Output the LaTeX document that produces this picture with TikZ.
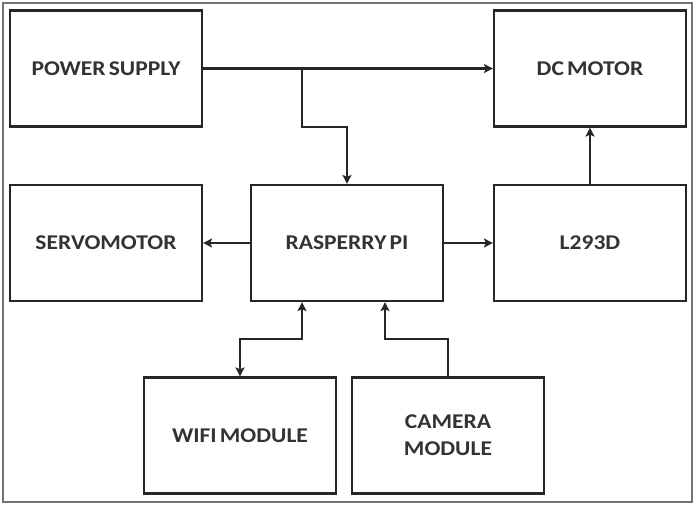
\documentclass[tikz,border=0pt]{standalone}
\usepackage{fontspec}
\setmainfont{Carlito}
\newfontfamily\blkfont[FakeStretch=1.12,WordSpace=0.6]{Carlito}
\usetikzlibrary{arrows.meta}
\begin{document}
\begin{tikzpicture}[x=1pt,y=-1pt,
  blk/.style={draw=black!85,line width=2.2pt,minimum width=192pt,minimum height=116pt,
    inner sep=0pt,align=center,font=\blkfont\bfseries\fontsize{21}{27}\selectfont,text=black!80},
  conn/.style={draw=black!85,line width=2.2pt,-{Stealth[length=9pt,width=9pt,inset=2pt]}},
  dconn/.style={draw=black!85,line width=2.2pt,{Stealth[length=9pt,width=9pt,inset=2pt]}-{Stealth[length=9pt,width=9pt,inset=2pt]}}]
\useasboundingbox (0,0) rectangle (696,506);
\draw[black!55,line width=2pt] (3,3) rectangle (692,502);
\node[blk] (ps) at (106,68.5) {POWER SUPPLY};
\node[blk] (dc) at (590,68.5) {DC MOTOR};
\node[blk] (servo) at (106,243) {SERVOMOTOR};
\node[blk] (rpi) at (347,243) {RASPERRY PI};
\node[blk] (l293) at (590,243) {L293D};
\node[blk] (wifi) at (240,435.5) {WIFI MODULE};
\node[blk] (cam) at (448,435.5) {CAMERA\\MODULE};
\coordinate (j1) at (302,68.5);
\draw[conn] (ps.east) -- (dc.west);
\draw[conn] (j1) -- ++(0,58.5) -| (rpi.north);
\draw[conn] (rpi.west) -- (servo.east);
\draw[conn] (rpi.east) -- (l293.west);
\draw[conn] (l293.north) -- (dc.south);
\draw[dconn] (wifi.north) -- ++(0,-37.5) -| ([xshift=-45pt]rpi.south);
\draw[conn] (cam.north) -- ++(0,-37.5) -| ([xshift=38pt]rpi.south);
\end{tikzpicture}
\end{document}
